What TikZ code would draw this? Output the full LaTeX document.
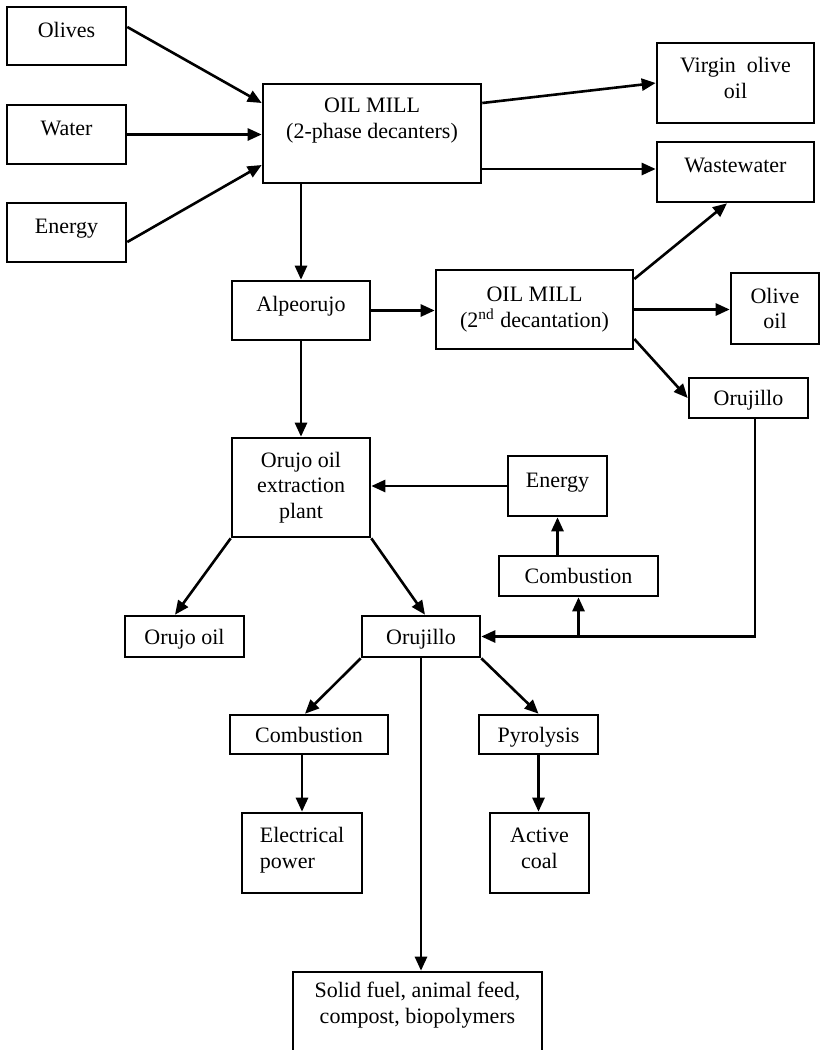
\documentclass[tikz,border=0pt]{standalone}
\usepackage{fontspec}
\setmainfont{Liberation Serif}
\usetikzlibrary{arrows.meta,calc}

\begin{document}
\begin{tikzpicture}[x=0.5pt,y=-0.5pt,
  box/.style={draw,line width=1.3pt,inner sep=0pt,align=center,font=\fontsize{11}{12.8}\selectfont},
  >={Triangle[length=7pt,width=6pt]}]
\useasboundingbox (0,0) rectangle (822,1050);
% inputs and first mill
\node[box,minimum width=59.5pt,minimum height=29pt,text depth=6pt] (Olv) at (66.5,36) {Olives};
\node[box,minimum width=59.5pt,minimum height=29.5pt,text depth=6pt] (Wat) at (66.5,134.5) {Water};
\node[box,minimum width=59.5pt,minimum height=29.5pt,text depth=6pt] (En1) at (66.5,232.5) {Energy};
\node[box,minimum width=109pt,minimum height=49.5pt,text depth=15pt] (Mill) at (372,133.5) {OIL MILL\\(2-phase decanters)};
\node[box,minimum width=78.5pt,minimum height=40pt,text depth=5pt] (Vir) at (735.5,83) {Virgin~ olive\\oil};
\node[box,minimum width=78.5pt,minimum height=30pt,text depth=7pt] (Ww) at (735.5,172) {Wastewater};
% second decantation
\node[box,minimum width=69pt,minimum height=29.5pt,text depth=6.5pt] (Alp) at (301,310.5) {Alpeorujo};
\node[box,minimum width=98.5pt,minimum height=39.5pt] (Mill2) at (534.5,309.5) {OIL MILL\\(2\textsuperscript{nd} decantation)};
\node[box,minimum width=44pt,minimum height=35.5pt] (Oo) at (775,308.5) {Olive\\oil};
\node[box,minimum width=59.5pt,minimum height=20pt,text depth=0pt] (Orj1) at (748.5,398) {Orujillo};
% extraction plant
\node[box,minimum width=69pt,minimum height=49.5pt] (Pl) at (301,487.5) {Orujo oil\\extraction\\plant};
\node[box,minimum width=49.5pt,minimum height=30pt,text depth=6pt] (En2) at (557.5,486) {Energy};
\node[box,minimum width=79.5pt,minimum height=20pt] (Cb1) at (578.5,576) {Combustion};
\node[box,minimum width=59.5pt,minimum height=20.5pt,text depth=0pt] (OrO) at (184.5,636.5) {Orujo oil};
\node[box,minimum width=59pt,minimum height=20.5pt,text depth=0pt] (Orj2) at (421,636.5) {Orujillo};
% uses of orujillo
\node[box,minimum width=79pt,minimum height=19.5pt] (Cb2) at (309,734.5) {Combustion};
\node[box,minimum width=59.5pt,minimum height=19.5pt,text depth=0pt] (Pyr) at (538.5,734.5) {Pyrolysis};
\node[box,align=left,minimum width=60pt,minimum height=40pt,text depth=5.4pt] (El) at (302,853) {Electrical\\power};
\node[box,minimum width=49.5pt,minimum height=40pt,text depth=5pt] (Ac) at (539.5,853) {Active\\coal};
\node[box,minimum width=124.5pt,minimum height=45pt,text depth=14.4pt] (Sf) at (417.5,1017) {Solid fuel, animal feed,\\compost, biopolymers};

\path[->,line width=1.3pt]
([yshift=4.5pt]Olv.east) edge ([yshift=15.25pt]Mill.west)
(Wat.east) edge (Wat.east -| Mill.west)
([yshift=-4.75pt]En1.east) edge ([yshift=-15.75pt]Mill.west)
([yshift=15.25pt]Mill.east) edge (Vir.west)
([yshift=-17.75pt]Mill.east) edge ([yshift=-17.75pt]Mill.east -| Ww.west)
(Mill.south -| Alp.north) edge (Alp.north)
(Alp.east) edge (Alp.east -| Mill2.west)
([yshift=15.25pt]Mill2.east) edge ([xshift=-4.25pt]Ww.south)
(Mill2.east) edge (Mill2.east -| Oo.west)
([yshift=-14.75pt]Mill2.east) edge (Orj1.west)
(Alp.south) edge (Pl.north)
(En2.west) edge (En2.west -| Pl.east)
(Cb1.north -| En2.south) edge (En2.south)
(Pl.south west) edge ([xshift=-4.75pt]OrO.north)
(Pl.south east) edge ([xshift=2pt]Orj2.north)
(Orj2.south west) edge ([xshift=-2pt]Cb2.north)
(Orj2.south east) edge (Pyr.north)
(Orj2.south) edge (Orj2.south |- Sf.north)
(Cb2.south -| El.north) edge (El.north)
(Pyr.south) edge (Pyr.south |- Ac.north);
% orujillo back to the plant
\coordinate (J) at (Cb1.south |- Orj2.east);
\draw[->,line width=1.3pt] ([xshift=3.25pt]Orj1.south) |- (Orj2.east);
\draw[->,line width=1.3pt] (J) -- (Cb1.south);
\end{tikzpicture}
\end{document}
